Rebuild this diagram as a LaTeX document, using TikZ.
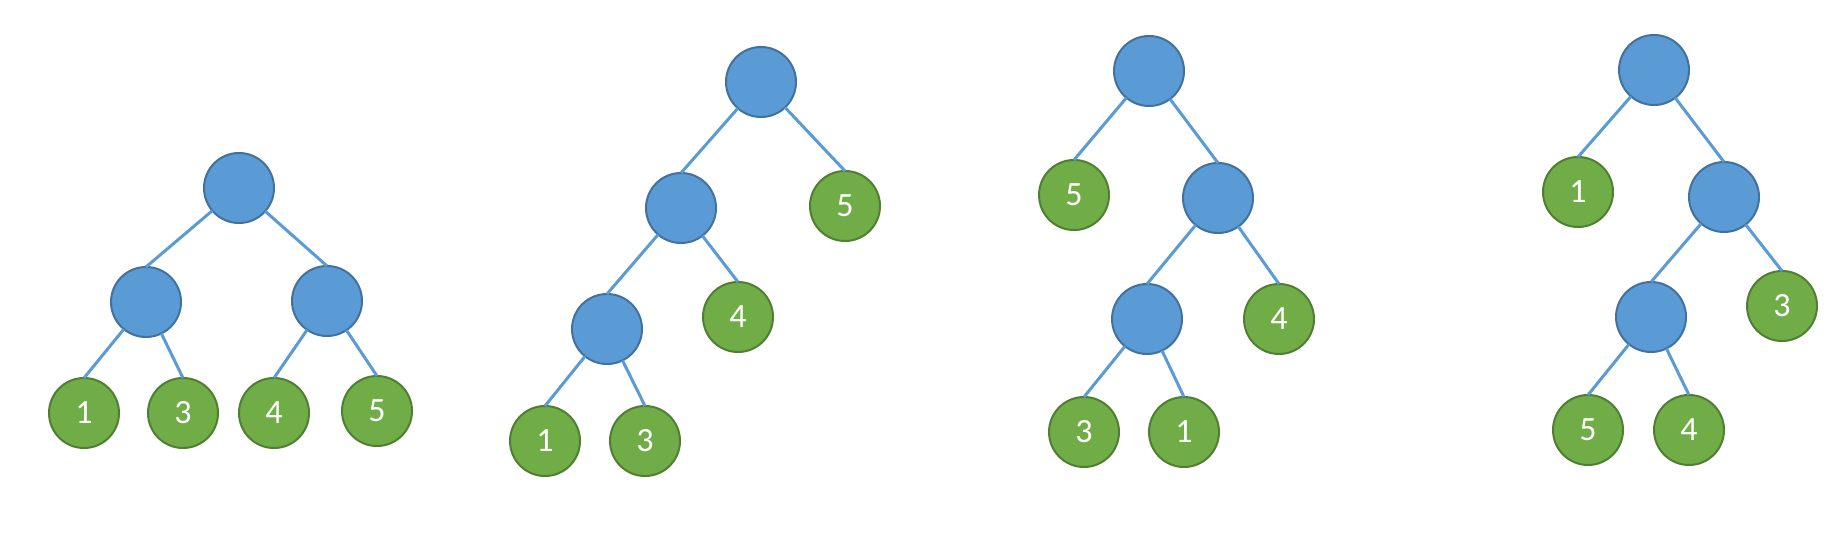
\documentclass[tikz,border=0pt]{standalone}
\usepackage{fontspec}
\setmainfont{Carlito}
\usepackage{tkz-graph}
\definecolor{nodeblue}{HTML}{5B9BD5}
\definecolor{nodeblueline}{HTML}{41719C}
\definecolor{leafgreen}{HTML}{70AD47}
\definecolor{leafgreenline}{HTML}{507E32}
\tikzset{
  InnerStyle/.style={shape=circle,draw=nodeblueline,line width=1pt,fill=nodeblue,
    minimum size=35pt,inner sep=0pt},
  LeafStyle/.style={InnerStyle,draw=leafgreenline,fill=leafgreen,text=white,
    font=\fontsize{17}{20}\selectfont}}

\begin{document}
\begin{tikzpicture}[x=0.5pt,y=-0.5pt]
    \GraphInit[vstyle=Normal]
    \tikzset{EdgeStyle/.style={draw=nodeblue,line width=1.5pt,
      to path={-- (\tikztotarget.north)}}}
    \useasboundingbox (0,0) rectangle (1845,545);
    % inner vertices
    \tikzset{VertexStyle/.style={InnerStyle}}
      \Vertex[x=239,y=188,NoLabel]{R1}
      \Vertex[x=146,y=302,NoLabel]{S1}
      \Vertex[x=327,y=301,NoLabel]{T1}
      \Vertex[x=761,y=82,NoLabel]{R2}
      \Vertex[x=681,y=208,NoLabel]{S2}
      \Vertex[x=607,y=329,NoLabel]{T2}
      \Vertex[x=1149,y=71,NoLabel]{R3}
      \Vertex[x=1218,y=198,NoLabel]{S3}
      \Vertex[x=1147,y=319,NoLabel]{T3}
      \Vertex[x=1654,y=70,NoLabel]{R4}
      \Vertex[x=1724,y=197,NoLabel]{S4}
      \Vertex[x=1651,y=317,NoLabel]{T4}
    % leaves
    \tikzset{VertexStyle/.style={LeafStyle}}
      \Vertex[x=84,y=413,L=1]{A1}
      \Vertex[x=183,y=413,L=3]{B1}
      \Vertex[x=274,y=413,L=4]{C1}
      \Vertex[x=377,y=411,L=5]{D1}
      \Vertex[x=845,y=206,L=5]{A2}
      \Vertex[x=738,y=317,L=4]{B2}
      \Vertex[x=545,y=441,L=1]{C2}
      \Vertex[x=645,y=441,L=3]{D2}
      \Vertex[x=1074,y=195,L=5]{A3}
      \Vertex[x=1279,y=319,L=4]{B3}
      \Vertex[x=1084,y=432,L=3]{C3}
      \Vertex[x=1184,y=432,L=1]{D3}
      \Vertex[x=1578,y=192,L=1]{A4}
      \Vertex[x=1782,y=306,L=3]{B4}
      \Vertex[x=1588,y=430,L=5]{C4}
      \Vertex[x=1689,y=430,L=4]{D4}
    % edges
      \Edges(R1,S1,A1)
      \Edges(S1,B1)
      \Edges(R1,T1,C1)
      \Edges(T1,D1)
      \Edges(R2,S2,T2,C2)
      \Edges(R2,A2)
      \Edges(S2,B2)
      \Edges(T2,D2)
      \Edges(R3,A3)
      \Edges(R3,S3,T3,C3)
      \Edges(S3,B3)
      \Edges(T3,D3)
      \Edges(R4,A4)
      \Edges(R4,S4,T4,C4)
      \Edges(S4,B4)
      \Edges(T4,D4)
\end{tikzpicture}
\end{document}
